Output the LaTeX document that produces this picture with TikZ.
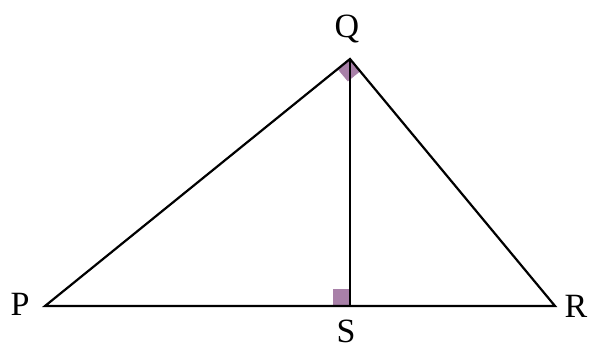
\documentclass[tikz,border=0pt]{standalone}
\usepackage{fontspec}
\setmainfont{Liberation Serif}
\usetikzlibrary{calc}
\definecolor{markfill}{RGB}{168,128,168}
\begin{document}
\begin{tikzpicture}[x=1pt,y=-1pt,
  edge/.style={line width=2.2pt,black},
  lbl/.style={font=\fontsize{34}{36}\selectfont,inner sep=0pt}]
\useasboundingbox (0,0) rectangle (591,349);
\coordinate (P) at (45,306);
\coordinate (R) at (555,306);
\coordinate (Q) at (350,59);
\coordinate (S) at (350,306);
% right angle markers
\coordinate (qa) at ($(Q)!16pt!(P)$);
\coordinate (qb) at ($(Q)!16pt!(R)$);
\fill[markfill] (Q) -- (qa) -- ($(qa)+(qb)-(Q)$) -- (qb) -- cycle;
\fill[markfill] (S) rectangle ++(-17,-17);
\draw[edge,line join=miter] (P) -- (Q) -- (R) -- cycle;
\draw[edge] (Q) -- (S);
\node[lbl] (lQ) at (347,29) {Q};
\node[lbl] (lP) at (20,304) {P};
\node[lbl] (lR) at (576,306) {R};
\node[lbl,anchor=base] (lS) at (346,342) {S};
\end{tikzpicture}
\end{document}
